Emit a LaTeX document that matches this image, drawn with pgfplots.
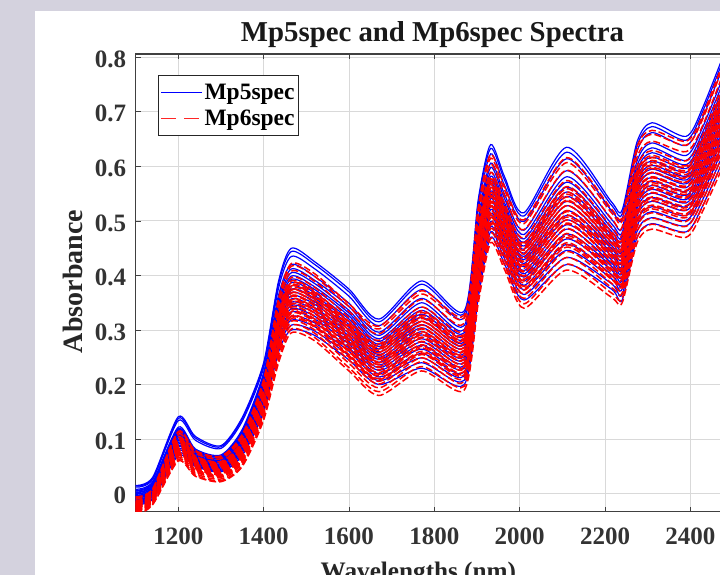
\documentclass[border=0pt]{standalone}
\usepackage{fontspec}
\setmainfont{Liberation Serif}
\usepackage{pgfplots}
\usepackage{pgfplotstable}
\pgfplotsset{compat=1.18}
\definecolor{bgl}{RGB}{212,210,222}
\definecolor{axc}{gray}{0.25}
\pgfplotstableread{
w c1 c2 c3 c4 c5 c6 c7 c8 c9 c10 c11 c12 c13 c14 c15 c16 c17 c18 c19 c20 c21 c22
1100 .015 .014 .012 .008 .006 .005 .003 .002 .000 -.001 -.003 -.004 -.005 -.007 -.008 -.010 -.011 -.012 -.014 -.016 -.018 -.020
1140 .030 .028 .026 .022 .020 .018 .016 .015 .013 .012 .010 .008 .007 .005 .004 .002 .000 -.001 -.003 -.005 -.008 -.010
1200 .141 .138 .134 .122 .119 .117 .115 .113 .111 .108 .106 .103 .100 .097 .094 .091 .088 .086 .082 .079 .074 .070
1240 .105 .102 .098 .082 .080 .078 .076 .074 .072 .070 .068 .066 .065 .063 .062 .060 .058 .056 .055 .053 .052 .050
1300 .088 .086 .083 .071 .069 .068 .066 .065 .063 .062 .060 .058 .057 .055 .053 .051 .049 .047 .045 .043 .041 .040
1350 .140 .137 .133 .118 .115 .112 .110 .108 .105 .103 .100 .097 .095 .092 .090 .087 .085 .082 .079 .076 .072 .070
1400 .240 .236 .231 .222 .218 .213 .209 .206 .202 .199 .195 .191 .188 .184 .181 .177 .173 .170 .165 .161 .155 .150
1435 .390 .385 .377 .364 .358 .351 .346 .341 .335 .330 .325 .320 .315 .309 .304 .299 .294 .289 .282 .276 .268 .260
1465 .450 .444 .435 .420 .412 .405 .399 .393 .387 .381 .375 .369 .363 .357 .351 .345 .339 .333 .325 .318 .309 .300
1520 .425 .420 .412 .398 .391 .385 .379 .374 .368 .363 .358 .352 .347 .341 .336 .331 .325 .320 .313 .306 .298 .290
1600 .375 .370 .362 .349 .343 .336 .331 .326 .320 .315 .310 .305 .300 .294 .289 .284 .279 .274 .267 .261 .253 .245
1670 .320 .315 .308 .296 .290 .284 .279 .274 .270 .265 .260 .255 .250 .246 .241 .236 .231 .226 .220 .214 .207 .200
1770 .390 .384 .374 .358 .350 .342 .336 .329 .323 .316 .310 .304 .297 .291 .284 .278 .272 .265 .257 .249 .240 .230
1870 .335 .330 .322 .308 .301 .295 .289 .284 .278 .273 .268 .262 .257 .251 .246 .241 .235 .230 .223 .216 .208 .200
1903 .540 .533 .522 .504 .495 .486 .479 .472 .464 .457 .450 .443 .436 .428 .421 .414 .407 .400 .391 .382 .371 .360
1932 .640 .633 .623 .606 .598 .589 .582 .575 .569 .562 .555 .548 .541 .535 .528 .521 .514 .507 .499 .490 .480 .470
1965 .580 .574 .564 .548 .540 .532 .526 .519 .513 .506 .500 .494 .487 .481 .474 .468 .462 .455 .447 .439 .430 .420
2010 .515 .509 .499 .483 .475 .467 .461 .454 .448 .441 .435 .429 .422 .416 .409 .403 .397 .390 .382 .374 .365 .355
2110 .635 .626 .614 .592 .581 .571 .562 .553 .545 .536 .528 .519 .510 .502 .493 .485 .476 .467 .457 .446 .433 .420
2215 .535 .529 .519 .503 .495 .487 .481 .474 .468 .461 .455 .449 .442 .436 .429 .423 .417 .410 .402 .394 .385 .375
2240 .520 .513 .504 .487 .479 .471 .464 .457 .451 .444 .438 .431 .424 .418 .411 .405 .398 .391 .383 .375 .365 .355
2275 .645 .638 .628 .610 .601 .593 .586 .579 .572 .565 .558 .551 .544 .537 .529 .523 .516 .509 .500 .491 .481 .470
2310 .680 .673 .662 .643 .634 .625 .617 .610 .602 .595 .588 .580 .573 .565 .558 .551 .543 .536 .526 .517 .506 .495
2390 .655 .648 .638 .620 .611 .603 .596 .589 .582 .575 .568 .561 .554 .547 .539 .533 .526 .519 .510 .501 .491 .480
2430 .710 .703 .692 .674 .665 .656 .649 .642 .634 .627 .620 .613 .606 .598 .591 .584 .577 .570 .561 .552 .541 .530
2510 .870 .862 .850 .830 .820 .810 .802 .794 .786 .778 .770 .762 .754 .746 .738 .730 .722 .714 .704 .694 .682 .670
}\mpfive
\pgfplotstableread{
w c1 c2 c3 c4 c5 c6 c7 c8 c9 c10 c11 c12 c13 c14 c15 c16 c17 c18 c19 c20 c21 c22 c23 c24 c25 c26 c27 c28 c29 c30 c31 c32
1100 -.006 -.007 -.010 -.013 -.014 -.016 -.018 -.019 -.020 -.022 -.023 -.025 -.026 -.027 -.029 -.030 -.032 -.033 -.034 -.036 -.038 -.040 -.030 -.022 -.032 -.017 -.026 -.015 -.020 -.027 -.019 -.024
1140 .009 .008 .006 .003 .002 .000 -.001 -.002 -.003 -.004 -.006 -.007 -.008 -.009 -.010 -.012 -.013 -.014 -.015 -.017 -.019 -.020 -.011 -.005 -.013 .000 -.008 .001 -.003 -.009 -.002 -.006
1200 .114 .112 .108 .103 .100 .097 .095 .093 .091 .089 .086 .084 .082 .080 .078 .075 .073 .071 .069 .066 .063 .060 .077 .088 .072 .096 .083 .099 .091 .080 .094 .085
1240 .079 .077 .074 .069 .067 .065 .063 .061 .059 .057 .055 .053 .051 .049 .047 .045 .044 .042 .040 .037 .034 .032 .046 .056 .043 .064 .052 .066 .059 .049 .061 .054
1300 .069 .067 .064 .059 .057 .055 .053 .051 .049 .047 .045 .043 .041 .039 .037 .035 .034 .032 .030 .027 .024 .022 .036 .046 .033 .054 .042 .056 .049 .039 .051 .044
1350 .109 .106 .102 .097 .094 .091 .088 .086 .084 .081 .079 .076 .074 .072 .069 .067 .064 .062 .060 .057 .053 .050 .068 .081 .063 .090 .075 .093 .084 .072 .087 .078
1400 .209 .206 .200 .194 .190 .186 .183 .180 .177 .174 .171 .168 .165 .162 .159 .156 .153 .150 .147 .143 .139 .135 .158 .173 .152 .185 .166 .188 .177 .162 .181 .170
1435 .358 .353 .344 .334 .328 .322 .317 .312 .307 .302 .298 .293 .288 .283 .278 .274 .269 .264 .259 .253 .246 .240 .325 .319 .313 .307 .301 .295 .289 .283 .276 .266
1465 .422 .417 .408 .396 .390 .383 .378 .373 .368 .363 .357 .352 .347 .342 .337 .331 .326 .321 .316 .309 .302 .295 .387 .381 .374 .368 .361 .355 .348 .342 .334 .324
1520 .403 .398 .389 .378 .371 .365 .360 .355 .350 .345 .340 .335 .330 .325 .320 .315 .310 .305 .300 .294 .286 .280 .369 .362 .356 .350 .344 .337 .331 .325 .317 .307
1600 .348 .343 .334 .323 .316 .310 .305 .300 .295 .290 .285 .280 .275 .270 .265 .260 .255 .250 .245 .239 .231 .225 .314 .308 .301 .295 .289 .283 .276 .270 .263 .253
1670 .307 .302 .293 .281 .275 .268 .263 .258 .253 .248 .242 .237 .232 .227 .222 .216 .211 .206 .201 .194 .187 .180 .272 .266 .259 .253 .246 .240 .233 .227 .219 .209
1770 .372 .366 .356 .342 .335 .327 .321 .315 .309 .303 .297 .291 .285 .279 .273 .267 .261 .255 .249 .242 .233 .225 .332 .324 .316 .309 .302 .294 .287 .279 .270 .258
1870 .327 .322 .312 .299 .292 .285 .280 .274 .268 .263 .257 .252 .246 .240 .235 .229 .224 .218 .212 .205 .197 .190 .289 .282 .275 .268 .261 .254 .247 .240 .232 .221
1903 .526 .519 .507 .490 .481 .472 .465 .458 .451 .444 .436 .429 .422 .415 .408 .400 .393 .386 .379 .370 .359 .350 .478 .469 .460 .451 .442 .433 .424 .415 .404 .390
1932 .622 .615 .604 .589 .580 .572 .566 .559 .552 .546 .539 .533 .526 .519 .513 .506 .500 .493 .486 .478 .468 .460 .577 .569 .561 .552 .544 .536 .528 .519 .510 .496
1965 .562 .556 .545 .531 .523 .515 .509 .503 .497 .491 .484 .478 .472 .466 .460 .453 .447 .441 .435 .427 .418 .410 .520 .512 .505 .497 .489 .481 .474 .466 .457 .444
2010 .502 .495 .484 .469 .460 .452 .446 .439 .432 .426 .419 .413 .406 .399 .393 .386 .380 .373 .366 .358 .348 .340 .457 .449 .441 .432 .424 .416 .408 .399 .390 .376
2110 .616 .607 .593 .574 .563 .553 .544 .536 .528 .519 .511 .502 .494 .486 .477 .469 .460 .452 .444 .433 .421 .410 .559 .549 .538 .528 .517 .507 .496 .486 .473 .456
2215 .522 .515 .504 .489 .480 .472 .466 .459 .452 .446 .439 .433 .426 .419 .413 .406 .400 .393 .386 .378 .368 .360 .477 .469 .461 .452 .444 .436 .428 .419 .410 .396
2240 .507 .500 .489 .475 .467 .459 .452 .446 .440 .433 .427 .420 .414 .408 .401 .395 .388 .382 .376 .368 .358 .350 .464 .456 .448 .440 .432 .424 .416 .408 .398 .385
2275 .636 .629 .617 .600 .591 .582 .575 .568 .561 .554 .546 .539 .532 .525 .518 .510 .503 .496 .489 .480 .469 .460 .588 .579 .570 .561 .552 .543 .534 .525 .514 .500
2310 .666 .659 .646 .629 .620 .611 .603 .596 .589 .581 .574 .566 .559 .552 .544 .537 .529 .522 .515 .505 .494 .485 .616 .607 .598 .589 .579 .570 .561 .552 .541 .526
2390 .646 .639 .627 .610 .601 .592 .585 .578 .571 .564 .556 .549 .542 .535 .528 .520 .513 .506 .499 .490 .479 .470 .598 .589 .580 .571 .562 .553 .544 .535 .524 .510
2430 .696 .689 .677 .660 .651 .642 .635 .628 .621 .614 .606 .599 .592 .585 .578 .570 .563 .556 .549 .540 .529 .520 .648 .639 .630 .621 .612 .603 .594 .585 .574 .560
2510 .861 .853 .838 .820 .810 .799 .791 .783 .775 .767 .758 .750 .742 .734 .726 .717 .709 .701 .693 .683 .670 .660 .806 .795 .785 .775 .765 .754 .744 .734 .721 .705
}\mpsix
\begin{document}
\begin{tikzpicture}[x=1pt,y=1pt]
\path[use as bounding box] (0,0) rectangle (720,575);
\clip (0,0) rectangle (720,575);
\fill[bgl] (0,0) rectangle (720,575);
\fill[white] (35,0) rectangle (720,564);
\begin{axis}[
  at={(135.6pt,63.3pt)}, anchor=south west,
  scale only axis, width=597.5pt, height=457.7pt,
  xmin=1100, xmax=2500, ymin=-0.033, ymax=0.806,
  xtick={1200,1400,1600,1800,2000,2200,2400},
  xticklabels={1200,1400,1600,1800,2000,2200,2400},
  ytick={0,0.1,0.2,0.3,0.4,0.5,0.6,0.7,0.8},
  yticklabels={0,0.1,0.2,0.3,0.4,0.5,0.6,0.7,0.8},
  tick align=inside, tickwidth=5pt,
  tick style={axc,line width=0.8pt},
  axis line style={axc,line width=1.1pt},
  grid=major, grid style={gray!30,line width=0.9pt},
  axis on top=false,
  tick label style={font=\fontsize{25}{28}\selectfont\bfseries,text=black!80},
  xticklabel style={yshift=-13pt},
  yticklabel style={xshift=-6pt,yshift=-2pt},
  title={Mp5spec and Mp6spec Spectra},
  title style={font=\fontsize{28.8}{32}\selectfont\bfseries,at={(axis description cs:0.497,1)},anchor=south,yshift=-3pt,text=black!90},
  xlabel={Wavelengths (nm)},
  xlabel style={font=\fontsize{25.2}{30}\selectfont\bfseries,at={(axis description cs:0.4733,0)},anchor=north,yshift=-47pt,text=black!85},
  ylabel={Absorbance},
  ylabel style={font=\fontsize{28}{30}\selectfont\bfseries,at={(axis description cs:-0.105,0.503)},anchor=center,text=black!85},
  legend style={at={(rel axis cs:0.0375,0.954)},anchor=north west,draw=black!85,line width=1pt,
    font=\fontsize{23.5}{25}\selectfont\bfseries,inner xsep=2pt,inner ysep=6pt,row sep=4pt,
    /tikz/every even column/.append style={column sep=5pt},
    nodes={inner ysep=2.5pt}},
  legend cell align=left,
  legend image code/.code={\draw[#1] (3pt,0pt) -- (44pt,0pt);},
  mp5/.style={blue,line width=1.2pt,smooth,tension=0.45,no markers},
  mp6/.style={red,line width=1.5pt,smooth,tension=0.45,no markers,dash pattern=on 7pt off 3pt},
]
\addlegendimage{blue,line width=1pt}
\addlegendentry{Mp5spec}
\addlegendimage{red!85,line width=1pt,dash pattern=on 15pt off 8pt}
\addlegendentry{Mp6spec}
\pgfplotsinvokeforeach{1,...,22}{\addplot[mp5,forget plot] table[x=w,y=c#1]{\mpfive};}
\pgfplotsinvokeforeach{1,...,32}{\addplot[mp6,forget plot] table[x=w,y=c#1]{\mpsix};}
\end{axis}
\end{tikzpicture}
\end{document}
